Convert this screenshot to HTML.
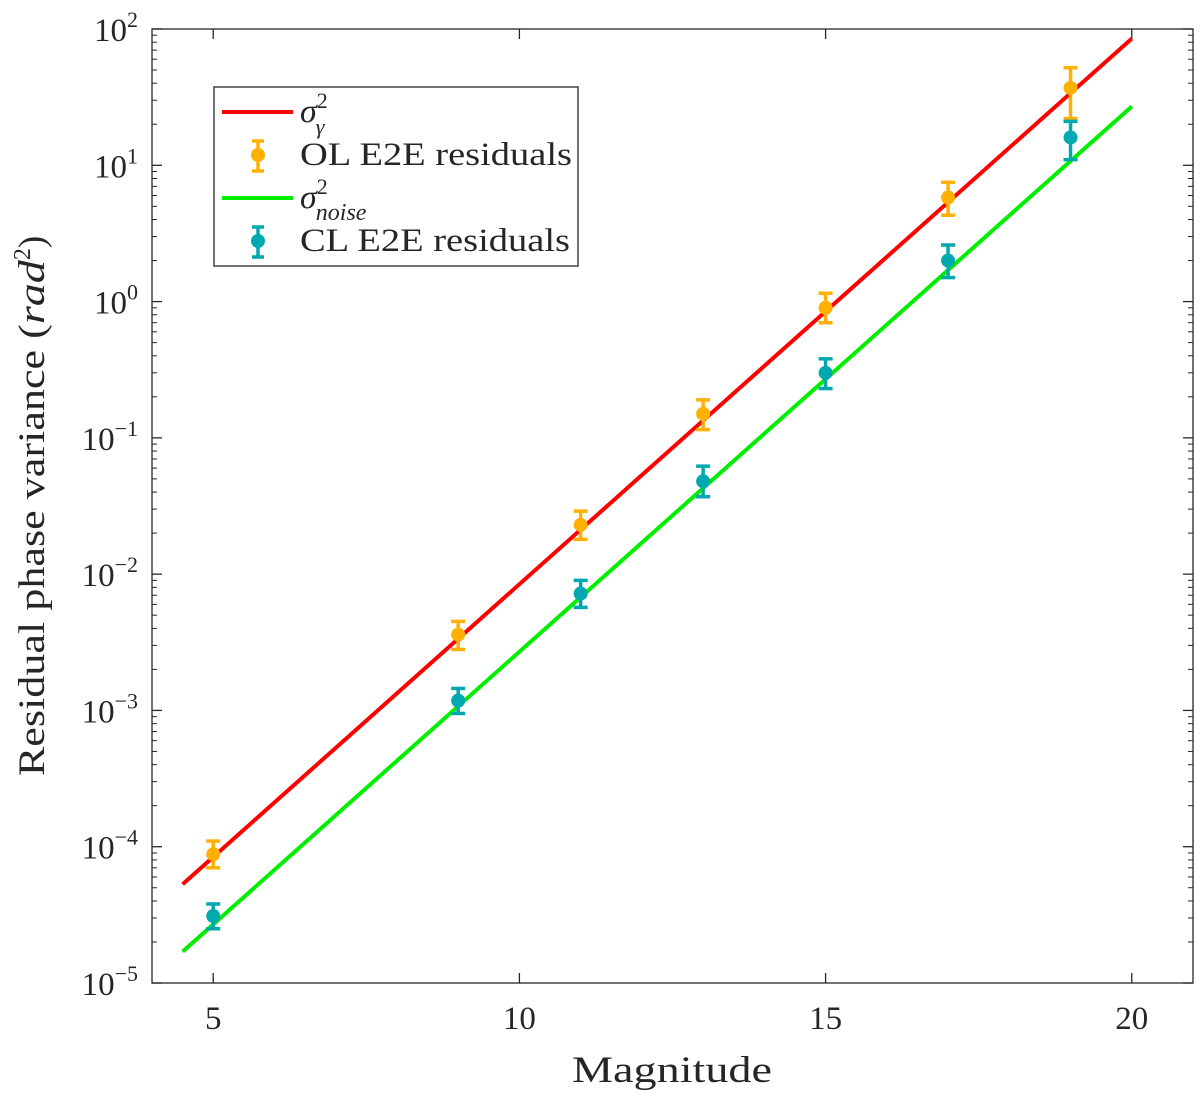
<!DOCTYPE html>
<html><head><meta charset="utf-8"><style>
body{margin:0;background:#fff}
text{font-family:"Liberation Serif",serif;fill:#262626}
</style></head><body>
<svg id="chart" width="1200" height="1097" xmlns="http://www.w3.org/2000/svg">
<g id="g"></g>
</svg>
<script>
const lineX=[4.5,20];
const redLine=[5.3e-5,85];
const greenLine=[1.7e-5,27];
const mags=[5,9,11,13,15,17,19];
const olVals=[8.8e-5,3.6e-3,0.023,0.15,0.9,5.8,37];
const olLo=[7.0e-5,2.8e-3,0.018,0.115,0.7,4.3,22];
const olHi=[1.1e-4,4.5e-3,0.029,0.19,1.15,7.5,52];
const clVals=[3.1e-5,1.18e-3,7.2e-3,0.048,0.30,2.0,16];
const clLo=[2.5e-5,0.95e-3,5.7e-3,0.037,0.23,1.5,11];
const clHi=[3.8e-5,1.45e-3,9.0e-3,0.062,0.38,2.6,21];
const xTicks=[5,10,15,20];
const yExp=[2,1,0,-1,-2,-3,-4,-5];

const L=152,R=1193,T=29,B=983;
const X=v=>L+(v-4)/(21-4)*(R-L);
const Y=v=>T+(2-Math.log10(v))/7*(B-T);
const ns="http://www.w3.org/2000/svg";
const g=document.getElementById('g');
function mk(tag,attrs,parent){const e=document.createElementNS(ns,tag);for(const k in attrs)e.setAttribute(k,attrs[k]);(parent||g).appendChild(e);return e;}

let e=mk('rect',{x:L,y:T,width:R-L,height:B-T,fill:'none',stroke:'#262626','stroke-width':1.3});


xTicks.forEach(t=>{
 mk('line',{x1:X(t),x2:X(t),y1:B,y2:B-10,stroke:'#262626','stroke-width':1.3});
 mk('line',{x1:X(t),x2:X(t),y1:T,y2:T+10,stroke:'#262626','stroke-width':1.3});
 const tx=mk('text',{x:X(t),y:B+46,'text-anchor':'middle','font-size':33});tx.textContent=t;
 
 
});
yExp.forEach(p=>{
 const y=Y(Math.pow(10,p));
 mk('line',{x1:L,x2:L+10,y1:y,y2:y,stroke:'#262626','stroke-width':1.3});
 mk('line',{x1:R,x2:R-10,y1:y,y2:y,stroke:'#262626','stroke-width':1.3});
 if(p>-5){for(let m=2;m<=9;m++){const yy=Y(m*Math.pow(10,p-1));
  mk('line',{x1:L,x2:L+5,y1:yy,y2:yy,stroke:'#262626','stroke-width':1});
  mk('line',{x1:R,x2:R-5,y1:yy,y2:yy,stroke:'#262626','stroke-width':1});}}
 const tx=mk('text',{x:L-14,y:y+12,'text-anchor':'end','font-size':33});
 tx.innerHTML='10<tspan dy="-14" font-size="22">'+(p<0?'\u2212'+(-p):p)+'</tspan>';
 
 
});
e=mk('line',{x1:X(lineX[0]),y1:Y(redLine[0]),x2:X(lineX[1]),y2:Y(redLine[1]),stroke:'#ff0000','stroke-width':4});


e=mk('line',{x1:X(lineX[0]),y1:Y(greenLine[0]),x2:X(lineX[1]),y2:Y(greenLine[1]),stroke:'#00ee00','stroke-width':4});


function errbar(x,v,lo,hi,c,name){
 const grp=mk('g',{});
 
 
 mk('line',{x1:x,x2:x,y1:Y(lo),y2:Y(hi),stroke:c,'stroke-width':3.5},grp);
 mk('line',{x1:x-7,x2:x+7,y1:Y(lo),y2:Y(lo),stroke:c,'stroke-width':3.5},grp);
 mk('line',{x1:x-7,x2:x+7,y1:Y(hi),y2:Y(hi),stroke:c,'stroke-width':3.5},grp);
 mk('circle',{cx:x,cy:Y(v),r:7,fill:c},grp);
}
mags.forEach((m,i)=>{
 errbar(X(m),olVals[i],olLo[i],olHi[i],'#ffb000','ol-point');
 errbar(X(m),clVals[i],clLo[i],clHi[i],'#00a8b0','cl-point');
});
const lg=mk('g',{});


mk('rect',{x:214,y:87,width:364,height:179,fill:'#fff',stroke:'#262626','stroke-width':1.3},lg);
mk('line',{x1:222,x2:293,y1:112,y2:112,stroke:'#ff0000','stroke-width':4},lg);
mk('line',{x1:222,x2:293,y1:198,y2:198,stroke:'#00ee00','stroke-width':4},lg);
[[155,'#ffb000'],[241,'#00a8b0']].forEach(([y,c])=>{
 mk('line',{x1:258,x2:258,y1:y-14,y2:y+16,stroke:c,'stroke-width':3.5},lg);
 mk('line',{x1:252,x2:264,y1:y-14,y2:y-14,stroke:c,'stroke-width':3.5},lg);
 mk('line',{x1:252,x2:264,y1:y+16,y2:y+16,stroke:c,'stroke-width':3.5},lg);
 mk('circle',{cx:258,cy:y,r:7,fill:c},lg);
});
let t=mk('text',{x:300,y:122,'font-size':34,'font-style':'italic'},lg);
t.innerHTML='σ<tspan dy="-14" font-size="22" font-style="normal">2</tspan><tspan dx="-12" dy="26" font-size="22">γ</tspan>';
t=mk('text',{x:300,y:165,'font-size':33,textLength:272,lengthAdjust:'spacingAndGlyphs'},lg);t.textContent='OL E2E residuals';
t=mk('text',{x:300,y:208,'font-size':34,'font-style':'italic'},lg);
t.innerHTML='σ<tspan dy="-14" font-size="22" font-style="normal">2</tspan><tspan dx="-12" dy="26" font-size="24">noise</tspan>';
t=mk('text',{x:300,y:251,'font-size':33,textLength:270,lengthAdjust:'spacingAndGlyphs'},lg);t.textContent='CL E2E residuals';
t=mk('text',{x:572,y:1082,'font-size':37,textLength:200,lengthAdjust:'spacingAndGlyphs'});t.textContent='Magnitude';


t=mk('text',{x:0,y:0,'text-anchor':'middle','font-size':37,transform:'translate(44,506) rotate(-90)'});
t.innerHTML='<tspan textLength="452" lengthAdjust="spacingAndGlyphs">Residual phase variance (</tspan><tspan font-style="italic" textLength="64" lengthAdjust="spacingAndGlyphs">rad</tspan><tspan dy="-14" font-size="24">2</tspan><tspan dy="14">)</tspan>';


</script>
</body></html>
